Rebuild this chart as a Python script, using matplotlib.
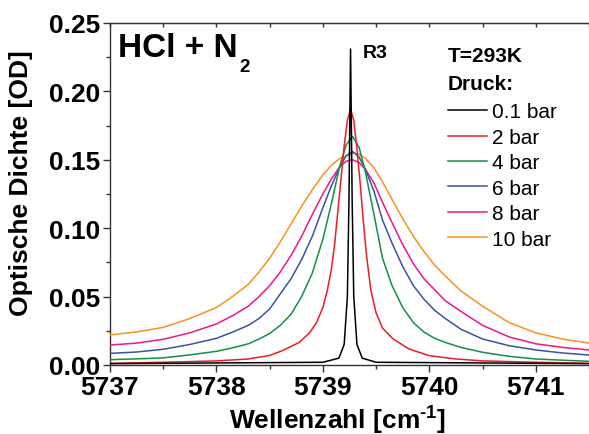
import numpy as np
import matplotlib
matplotlib.use("Agg")
import matplotlib.pyplot as plt
from matplotlib.ticker import MultipleLocator, FormatStrFormatter

plt.rcParams['font.family'] = ['Liberation Sans', 'DejaVu Sans']
plt.rcParams['font.weight'] = 'bold'
plt.rcParams['mathtext.fontset'] = 'custom'
plt.rcParams['mathtext.rm'] = 'Liberation Sans:bold'
plt.rcParams['mathtext.bf'] = 'Liberation Sans:bold'
plt.rcParams['mathtext.it'] = 'Liberation Sans:bold'

# Wellenzahl-Stuetzstellen (cm^-1)
nu_01 = [5737.0, 5738.0, 5739.0, 5739.15, 5739.20, 5739.23, 5739.245, 5739.26,
         5739.275, 5739.29, 5739.32, 5739.37, 5739.5, 5740.5, 5741.5]
od_01 = [0.001, 0.0015, 0.002, 0.005, 0.015, 0.05, 0.12, 0.231,
         0.12, 0.05, 0.015, 0.005, 0.002, 0.0015, 0.001]

nu_2 = [5737.0, 5737.5, 5738.0, 5738.3, 5738.5, 5738.62, 5738.78, 5738.88, 5738.94,
        5739.0, 5739.04, 5739.08, 5739.11, 5739.14, 5739.17, 5739.20, 5739.23,
        5739.26, 5739.29, 5739.32, 5739.35, 5739.38, 5739.41, 5739.45, 5739.50,
        5739.56, 5739.66, 5739.81, 5740.0, 5740.25, 5740.5, 5741.0, 5741.5]
od_2 = [0.0012, 0.002, 0.003, 0.0044, 0.007, 0.0105, 0.0166, 0.024, 0.031,
        0.042, 0.054, 0.070, 0.088, 0.112, 0.136, 0.160, 0.179,
        0.187, 0.179, 0.158, 0.133, 0.105, 0.080, 0.055, 0.038,
        0.027, 0.019, 0.0117, 0.0068, 0.0044, 0.003, 0.002, 0.0012]

# gemeinsames Raster fuer 4..10 bar
nu = [5737.0, 5737.25, 5737.5, 5737.75, 5738.0, 5738.15, 5738.3, 5738.4, 5738.5,
      5738.6, 5738.7, 5738.8, 5738.9, 5739.0, 5739.08, 5739.16, 5739.22, 5739.28,
      5739.34, 5739.40, 5739.48, 5739.56, 5739.65, 5739.75, 5739.85, 5739.95,
      5740.05, 5740.15, 5740.3, 5740.5, 5740.75, 5741.0, 5741.25, 5741.5]
od_4 = [0.0039, 0.0045, 0.0052, 0.0074, 0.010, 0.0125, 0.0155, 0.019, 0.023,
        0.029, 0.037, 0.050, 0.067, 0.092, 0.118, 0.146, 0.161, 0.167,
        0.159, 0.141, 0.110, 0.078, 0.058, 0.042, 0.031, 0.024,
        0.0195, 0.0165, 0.0128, 0.0093, 0.0063, 0.0044, 0.0035, 0.0027]
od_6 = [0.0085, 0.0095, 0.0115, 0.015, 0.0195, 0.024, 0.029, 0.034, 0.041,
        0.052, 0.063, 0.077, 0.094, 0.115, 0.131, 0.145, 0.153, 0.156,
        0.152, 0.143, 0.127, 0.106, 0.089, 0.072, 0.058, 0.048,
        0.040, 0.034, 0.026, 0.019, 0.0141, 0.011, 0.0088, 0.0073]
od_8 = [0.0146, 0.016, 0.0188, 0.0235, 0.030, 0.036, 0.043, 0.050, 0.058,
        0.068, 0.080, 0.094, 0.110, 0.125, 0.136, 0.145, 0.149, 0.150,
        0.148, 0.143, 0.133, 0.119, 0.104, 0.088, 0.074, 0.063,
        0.055, 0.047, 0.039, 0.029, 0.0205, 0.0155, 0.0129, 0.011]
od_10 = [0.022, 0.0242, 0.0275, 0.034, 0.042, 0.050, 0.059, 0.068, 0.078,
         0.090, 0.103, 0.116, 0.128, 0.139, 0.146, 0.151, 0.153, 0.155,
         0.154, 0.151, 0.144, 0.134, 0.121, 0.107, 0.094, 0.083,
         0.073, 0.065, 0.054, 0.043, 0.031, 0.0235, 0.019, 0.016]

labels = ['0.1 bar', '2 bar', '4 bar', '6 bar', '8 bar', '10 bar']
colors = ['#000000', '#ed1c24', '#11904a', '#3953a4', '#ec1889', '#f7931e']

fig = plt.figure(figsize=(5.89, 4.35), dpi=100)
ax = fig.add_axes([110 / 589, 1 - 366 / 435, 479 / 589, 342 / 435])

series = [(nu_01, od_01), (nu_2, od_2), (nu, od_4), (nu, od_6), (nu, od_8), (nu, od_10)]
for i, (xs, ys) in enumerate(series):
    ax.plot(xs, ys, color=colors[i], lw=1.1, label=labels[i], zorder=10 - i)

ax.set_xlim(5737, 5741.5)
ax.set_ylim(0, 0.25)
ax.xaxis.set_major_locator(MultipleLocator(1))
ax.xaxis.set_minor_locator(MultipleLocator(0.5))
ax.yaxis.set_major_locator(MultipleLocator(0.05))
ax.yaxis.set_minor_locator(MultipleLocator(0.025))
ax.yaxis.set_major_formatter(FormatStrFormatter('%.2f'))
ax.xaxis.set_major_formatter(FormatStrFormatter('%d'))
ax.tick_params(which='major', direction='out', length=5, width=1, labelsize=19, pad=2,
               color='#333333')
ax.tick_params(which='minor', direction='out', length=3, width=1, color='#333333')
ax.spines['right'].set_visible(False)
for s in ['left', 'bottom', 'top']:
    ax.spines[s].set_color('#333333')
    ax.spines[s].set_linewidth(1)

top = ax.secondary_xaxis('top')
top.set_xticks(np.arange(5737, 5741.6, 0.5))
top.tick_params(direction='in', length=3, width=1, labeltop=False, color='#333333')
top.spines['top'].set_color('#333333')

ax.set_xlabel(r'Wellenzahl [cm$^{\text{-1}}$]', fontsize=19, fontweight='bold')
ax.xaxis.set_label_coords(0.476, -0.112)
ax.set_ylabel('Optische Dichte [OD]', fontsize=19, fontweight='bold')
ax.yaxis.set_label_coords(-0.161, 0.534)

ax.text(0.017, 0.903, 'HCl + N', transform=ax.transAxes,
        fontsize=24, va='baseline', ha='left')
ax.text(0.271, 0.86, '2', transform=ax.transAxes, fontsize=13.5, va='baseline', ha='left')
ax.text(5739.37, 0.225, 'R3', fontsize=14, va='baseline', ha='left')

ax.text(0.7056, 0.889, 'T=293K', transform=ax.transAxes, fontsize=15, va='baseline')
ax.text(0.7056, 0.807, 'Druck:', transform=ax.transAxes, fontsize=15, va='baseline')
leg = ax.legend(loc='upper left', bbox_to_anchor=(0.706, 0.768), frameon=False,
                prop={'weight': 'normal', 'size': 15},
                handlelength=1.85, handletextpad=0.25, labelspacing=0.31,
                borderpad=0, borderaxespad=0)

fig.savefig('out.png', dpi=100)
